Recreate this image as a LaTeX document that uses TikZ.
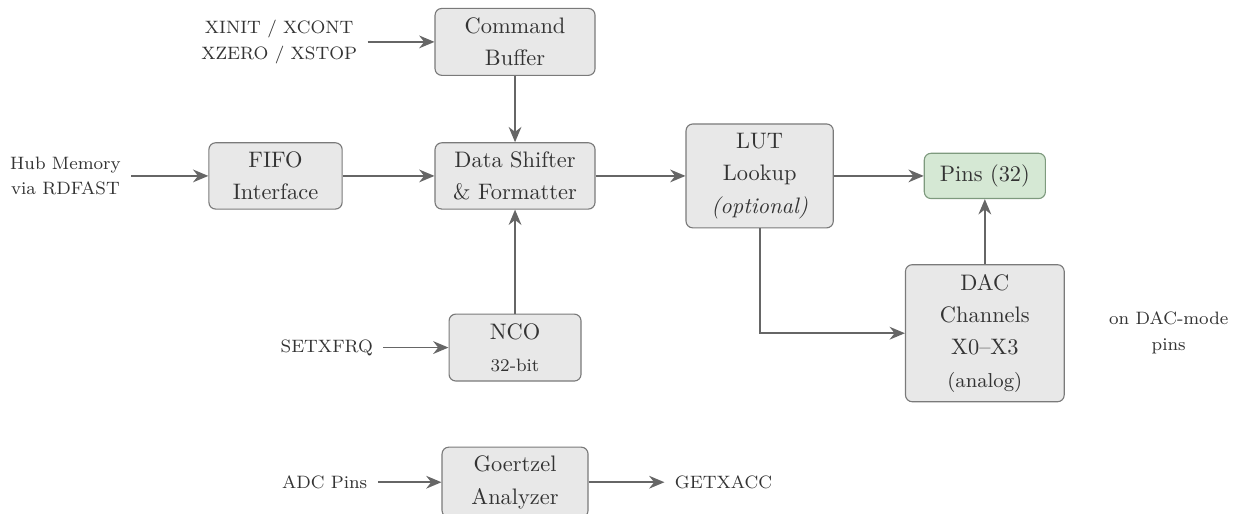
\documentclass[tikz,border=0pt]{standalone}
\usetikzlibrary{arrows.meta,positioning}
\definecolor{boxgray}{HTML}{E8E8E8}
\definecolor{edgegray}{HTML}{7A7A7A}
\definecolor{wiregray}{HTML}{666666}
\definecolor{pingreen}{HTML}{D5E8D4}
\definecolor{pinedge}{HTML}{7E9A7E}
\tikzset{
  block/.style={
    draw=edgegray,
    fill=boxgray,
    rounded corners=3pt,
    align=center,
    inner sep=2pt,
    line width=.5pt,
    text=black!80,
    font=\fontsize{10}{14.5}\selectfont
  },
  pinblock/.style={block, draw=pinedge, fill=pingreen},
  arrow/.style={-{Stealth[length=2.4mm,width=2mm]}, line width=.8pt, draw=wiregray},
  sig/.style={align=center, inner sep=4.5pt, text=black!80, font=\fontsize{8}{11.5}\selectfont}
}

\begin{document}
\begin{tikzpicture}
  \useasboundingbox (-8.08,-5.30) rectangle (11.53,2.76);

  \node[block, minimum width=2.51cm, minimum height=1.04cm] (shifter) at (0,0)
    {Data Shifter\\\& Formatter};
  \node[block, above=1.04cm of shifter, minimum width=2.51cm, minimum height=1.05cm]
    (cmdbuf) {Command\\Buffer};
  \node[block, left=1.44cm of shifter, minimum width=2.09cm, minimum height=1.04cm]
    (fifo) {FIFO\\Interface};
  \node[block, right=1.41cm of shifter, minimum width=2.31cm, minimum height=1.63cm]
    (lut) {LUT\\Lookup\\\textit{(optional)}};
  \node[pinblock, right=1.41cm of lut, minimum width=1.90cm, minimum height=.71cm]
    (pins) {Pins (32)};
  \node[block, below=1.02cm of pins, minimum width=2.49cm, minimum height=2.15cm]
    (dac) {DAC\\Channels\\X0--X3\\{\small (analog)}};
  \node[block, below=1.63cm of shifter, minimum width=2.07cm, minimum height=1.05cm]
    (nco) {NCO\\{\footnotesize 32-bit}};
  \node[block, below=1.02cm of nco, minimum width=2.29cm, minimum height=1.10cm]
    (goertzel) {Goertzel\\Analyzer};

  \node[sig, left=1.21cm of fifo] (hub) {Hub Memory\\via RDFAST};
  \node[sig, left=1.05cm of cmdbuf] (xcmd) {XINIT / XCONT\\XZERO / XSTOP};
  \node[sig, left=1.02cm of nco] (setxfrq) {SETXFRQ};
  \node[sig, left=1.0cm of goertzel] (adcpins) {ADC Pins};
  \node[sig, right=1.19cm of goertzel] (getxacc) {GETXACC};
  \node[sig, right=.53cm of dac] (dacnote) {on DAC-mode\\pins};

  \draw[arrow] (hub) -- (fifo);
  \draw[arrow] (xcmd) -- (cmdbuf);
  \draw[arrow] (fifo) -- (shifter);
  \draw[arrow] (cmdbuf) -- (shifter);
  \draw[arrow] (nco) -- (shifter);
  \draw[arrow] (setxfrq) -- (nco);
  \draw[arrow] (shifter) -- (lut);
  \draw[arrow] (lut) -- (pins);
  \draw[arrow] (lut) |- (dac);
  \draw[arrow] (dac) -- (pins);
  \draw[arrow] (adcpins) -- (goertzel);
  \draw[arrow] (goertzel) -- (getxacc);
\end{tikzpicture}
\end{document}
